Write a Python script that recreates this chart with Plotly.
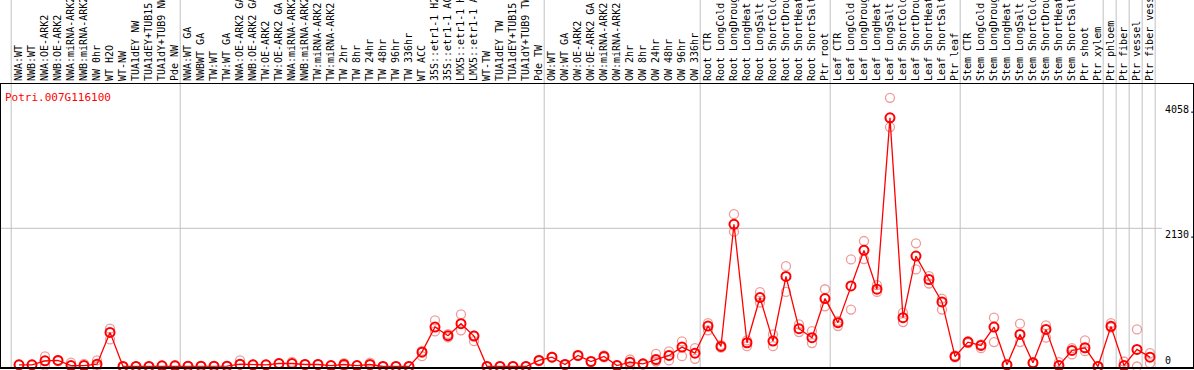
import plotly.graph_objects as go

gene = "Potri.007G116100"

samples = [
    "NWA:WT", "NWB:WT", "NWA:OE-ARK2", "NWB:OE-ARK2", "NWA:miRNA-ARK2", "NWB:miRNA-ARK2",
    "NW 0hr", "WT H2O", "WT-NW", "TUA1dEY NW", "TUA1dEY+TUB15 NW", "TUA1dY+TUB9 NW", "Pde NW",
    "NWA:WT GA", "NWBWT GA", "TW:WT", "TW:WT GA", "NWA:OE-ARK2 GA", "NWB:OE-ARK2 GA",
    "TW:OE-ARK2", "TW:OE-ARK2 GA", "NWA:miRNA-ARK2 GA", "NWB:miRNA-ARK2 GA", "TW:miRNA-ARK2",
    "TW:miRNA-ARK2 GA", "TW 2hr", "TW 8hr", "TW 24hr", "TW 48hr", "TW 96hr", "TW 336hr",
    "WT ACC", "35S::etr1-1 H2O", "35S::etr1-1 ACC", "LMX5::etr1-1 H2O", "LMX5::etr1-1 ACC",
    "WT-TW", "TUA1dEY TW", "TUA1dEY+TUB15 TW", "TUA1dY+TUB9 TW", "Pde TW",
    "OW:WT", "OW:WT GA", "OW:OE-ARK2", "OW:OE-ARK2 GA", "OW:miRNA-ARK2", "OW:miRNA-ARK2 GA",
    "OW 2hr", "OW 8hr", "OW 24hr", "OW 48hr", "OW 96hr", "OW 336hr",
    "Root CTR", "Root LongCold", "Root LongDrought", "Root LongHeat", "Root LongSalt",
    "Root ShortCold", "Root ShortDrought", "Root ShortHeat", "Root ShortSalt", "Ptr root",
    "Leaf CTR", "Leaf LongCold", "Leaf LongDrought", "Leaf LongHeat", "Leaf LongSalt",
    "Leaf ShortCold", "Leaf ShortDrought", "Leaf ShortHeat", "Leaf ShortSalt", "Ptr leaf",
    "Stem CTR", "Stem LongCold", "Stem LongDrought", "Stem LongHeat", "Stem LongSalt",
    "Stem ShortCold", "Stem ShortDrought", "Stem ShortHeat", "Stem ShortSalt", "Ptr shoot",
    "Ptr xylem", "Ptr phloem", "Ptr fiber", "Ptr vessel", "Ptr fiber vessel",
]

mean_values = [
    26, 26, 88, 93, 15, 15, 36, 526, 0, 0, 0, 10, 10,
    5, 5, 5, 5, 36, 26, 26, 46, 46, 31, 31, 15, 31, 15, 31, 0, 0, 0,
    221, 608, 475, 660, 469, 0, 0, 0, 0, 93,
    144, 31, 170, 77, 155, 15, 67, 41, 108, 170, 299, 206,
    624, 309, 2192, 366, 1063, 392, 1388, 583, 444, 1047,
    676, 1242, 1790, 1191, 3832, 753, 1702, 1341, 995, 155,
    376, 325, 608, 26, 495, 57, 572, 15, 247, 289, 0,
    619, 15, 263, 144,
]

rep_high = [
    30, 30, 155, 100, 60, 40, 93, 583, 0, 0, 0, 15, 20,
    5, 5, 5, 5, 93, 30, 30, 50, 70, 35, 35, 15, 50, 15, 60, 0, 0, 0,
    240, 712, 500, 804, 480, 0, 0, 0, 0, 100,
    150, 35, 175, 80, 170, 20, 108, 45, 196, 232, 387, 283,
    670, 330, 2347, 402, 1145, 495, 1547, 650, 546, 1191,
    700, 1650, 1934, 1253, 4141, 830, 1898, 1392, 1047, 170,
    390, 340, 753, 30, 660, 67, 634, 67, 283, 402, 0,
    670, 77, 572, 206,
]

rep_low = [
    20, 20, 15, 85, 10, 10, 0, 418, 0, 0, 0, 5, 5,
    5, 5, 5, 5, 30, 20, 20, 40, 40, 25, 25, 10, 10, 10, 20, 0, 0, 0,
    160, 541, 450, 557, 391, 0, 0, 0, 0, 85,
    140, 25, 160, 70, 140, 10, 0, 30, 77, 93, 160, 119,
    557, 290, 2078, 314, 985, 314, 1150, 531, 361, 928,
    624, 877, 1655, 1150, 3690, 685, 1496, 1279, 877, 140,
    360, 283, 376, 20, 376, 50, 444, 10, 186, 237, 0,
    600, 10, 0, 51,
]

group_starts = [0, 13, 41, 53, 63, 73, 84, 85, 86, 87, 88]
y_ticks = [0, 2130, 4058]
y_tick_text = ["0", "2130.", "4058."]

x = list(range(len(samples)))
red = "#ff0000"
pink = "rgba(235,120,120,0.75)"
mono = "DejaVu Sans Mono"

fig = go.Figure()
for reps in (rep_high, rep_low):
    fig.add_trace(go.Scatter(
        x=x, y=reps, mode="markers",
        marker=dict(symbol="circle-open", size=9, color=pink, line=dict(width=1.3, color=pink)),
        hoverinfo="skip", showlegend=False, cliponaxis=False,
    ))
fig.add_trace(go.Scatter(
    x=x, y=mean_values, mode="lines+markers",
    line=dict(color=red, width=1.3),
    marker=dict(symbol="circle-open", size=9, color=red, line=dict(width=2, color=red)),
    showlegend=False, cliponaxis=False, name=gene,
))

shapes = []
plot_h = 370 - 84 - 2
top_extra = 1 + 84 / plot_h
for g in group_starts:
    shapes.append(dict(type="line", xref="x", yref="paper", x0=g - 0.6, x1=g - 0.6,
                       y0=0, y1=top_extra, line=dict(color="#c0c0c0", width=1), layer="below"))
shapes.append(dict(type="line", xref="paper", yref="y", x0=0, x1=0.974, y0=2130, y1=2130,
                   line=dict(color="#c0c0c0", width=1), layer="below"))
shapes.append(dict(type="line", xref="paper", yref="paper", x0=0, x1=1, y0=0, y1=0,
                   line=dict(color="black", width=2)))

annotations = []
for v, t in zip(y_ticks, y_tick_text):
    annotations.append(dict(xref="paper", yref="y", x=0.9755, y=v, text=t, showarrow=False,
                            xanchor="left", yanchor="bottom" if v == 0 else "top",
                            font=dict(family=mono, size=10, color="black"),
                            borderpad=0, yshift=0))
annotations.append(dict(xref="paper", yref="paper", x=0.0025, y=1 - 6 / plot_h, text=gene,
                        showarrow=False, xanchor="left", yanchor="top",
                        font=dict(family=mono, size=11, color=red), borderpad=0))

fig.update_layout(
    width=1194, height=370,
    margin=dict(l=1, r=1, t=84, b=2, pad=0),
    paper_bgcolor="white", plot_bgcolor="white",
    shapes=shapes, annotations=annotations,
    xaxis=dict(
        range=[-1.385, 90.31], side="top", tickmode="array", tickvals=x, ticktext=samples,
        tickangle=-90, tickfont=dict(family=mono, size=10, color="black"),
        showgrid=False, zeroline=False, ticks="", showline=True, linecolor="black",
        linewidth=1, mirror=True, automargin=False,
    ),
    yaxis=dict(
        range=[-23, 4354], showticklabels=False, showgrid=False, zeroline=False,
        ticks="", showline=True, linecolor="black", linewidth=1, mirror=True,
    ),
)

fig.write_html("out.html", config={"displayModeBar": False},
               post_script="document.body.style.margin='0';document.body.style.overflow='hidden';")
